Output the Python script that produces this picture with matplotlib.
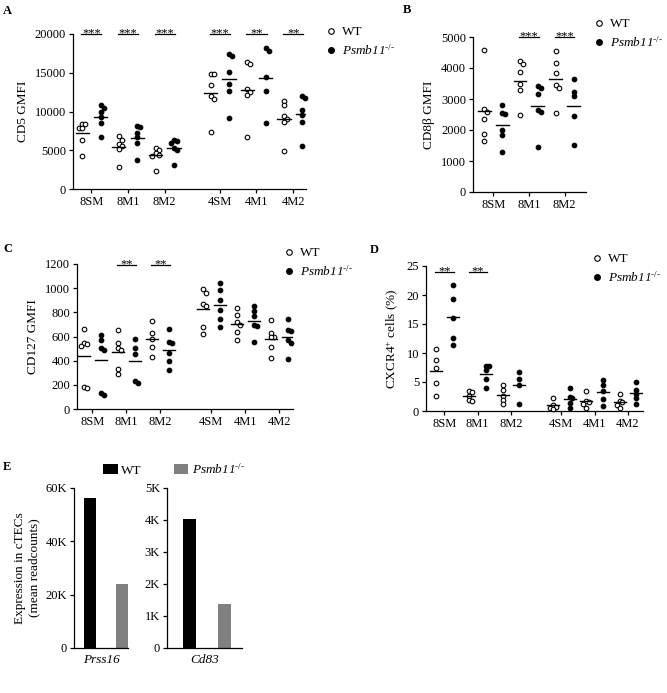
import numpy as np
import matplotlib
matplotlib.use('Agg')
import matplotlib.pyplot as plt
from matplotlib.lines import Line2D
from matplotlib.patches import Patch

plt.rcParams['font.family'] = ['Liberation Serif', 'DejaVu Serif']
plt.rcParams['mathtext.fontset'] = 'custom'
plt.rcParams['mathtext.rm'] = 'Liberation Serif'
plt.rcParams['mathtext.it'] = 'Liberation Serif:italic'
# italic slot that also keeps digits italic (used for the gene name)
plt.rcParams['mathtext.sf'] = 'Liberation Serif:italic'

# ---- data ----
groups_all = ['8SM', '8M1', '8M2', '4SM', '4M1', '4M2']
groups_cd8 = ['8SM', '8M1', '8M2']

cd5_wt = [[8400, 8350, 7900, 7850, 6350, 4300],
          [6860, 6350, 5790, 5490, 5190, 2780],
          [5300, 5060, 4600, 4420, 4290, 2270],
          [14850, 14850, 13400, 12000, 11600, 7300],
          [16350, 16090, 12870, 12570, 12140, 6770],
          [11400, 10850, 9450, 9000, 8700, 4850]]
cd5_ko = [[10850, 10430, 9910, 9270, 8500, 6690],
          [8150, 7980, 7210, 6650, 6000, 3770],
          [6350, 6130, 5920, 5280, 4970, 3130],
          [17400, 17200, 15100, 13600, 12600, 9150],
          [18150, 17850, 14400, 12600, 8500],
          [12050, 11800, 10200, 9550, 8700, 5600]]
cd5_sig = ['***', '***', '***', '***', '**', '**']

cd8b_wt = [[4590, 2690, 2580, 2370, 1880, 1650],
           [4230, 4120, 3870, 3490, 3300, 2490],
           [4550, 4160, 3850, 3440, 3370, 2550]]
cd8b_ko = [[2800, 2550, 2500, 1990, 1830, 1290],
           [3410, 3370, 3170, 2630, 2580, 1450],
           [3630, 3230, 3090, 2440, 1510]]
cd8b_sig = ['', '***', '***']

cd127_wt = [[660, 550, 536, 522, 185, 171],
            [655, 545, 503, 489, 329, 290],
            [727, 633, 580, 517, 434],
            [990, 960, 870, 850, 680, 620],
            [835, 780, 716, 697, 641, 572],
            [738, 628, 600, 594, 517, 420]]
cd127_ko = [[611, 570, 503, 489, 130, 116],
            [580, 503, 453, 235, 218],
            [660, 558, 545, 467, 401, 323],
            [1042, 987, 904, 821, 744, 675],
            [854, 813, 766, 697, 683, 558],
            [744, 650, 647, 572, 545, 412]]
cd127_sig = ['', '**', '**', '', '', '']

cxcr4_wt = [[10.7, 8.8, 7.4, 4.8, 2.6],
            [3.5, 3.3, 2.6, 1.9, 1.7],
            [4.4, 3.6, 2.6, 1.9, 1.2],
            [2.3, 1.0, 0.7, 0.5, 0.3],
            [3.4, 1.8, 1.5, 1.2, 0.5],
            [3.0, 1.7, 1.5, 1.1, 0.5]]
cxcr4_ko = [[21.8, 19.3, 16.0, 12.6, 11.4],
            [7.8, 7.7, 7.1, 5.6, 4.0],
            [6.8, 5.5, 4.5, 1.2],
            [3.9, 2.5, 2.3, 1.3, 0.6],
            [5.4, 4.4, 3.5, 2.1, 0.8],
            [5.0, 3.7, 3.0, 2.3, 1.2]]
cxcr4_sig = ['**', '**', '', '', '', '']

genes = ['Prss16', 'Cd83']
expr_wt = [56200, 4030]
expr_ko = [24100, 1375]

KO_LABEL = r'$\mathsf{Psmb11}^{\text{-/-}}$'

W, H = 667, 693
fig = plt.figure(figsize=(W / 100, H / 100), dpi=100)


def add_ax(l, t, r, b):
    return fig.add_axes([l / W, 1 - b / H, (r - l) / W, (b - t) / H])


def style(ax):
    for s in ['top', 'right']:
        ax.spines[s].set_visible(False)
    for s in ['left', 'bottom']:
        ax.spines[s].set_linewidth(0.9)
    ax.tick_params(direction='out', length=3, width=0.9, labelsize=9, pad=2)


def swarm(vals, yspan, d=0.17, tol=0.026):
    # simple beeswarm: shift overlapping points sideways
    placed = []
    offs = []
    for v in vals:
        for off in [0, d, -d, 2 * d, -2 * d]:
            ok = all(abs(v - pv) > tol * yspan or abs(off - po) > d * 0.9 for pv, po in placed)
            if ok:
                break
        placed.append((v, off))
        offs.append(off)
    return np.array(offs)


def dot_panel(ax, wt, ko, sig, labels, ylim, yticks, sig_y, wt_slots, ko_slots, xlim):
    yspan = ylim[1] - ylim[0]
    for vals, slot, filled in [(v, s, False) for v, s in zip(wt, wt_slots)] + \
                              [(v, s, True) for v, s in zip(ko, ko_slots)]:
        offs = swarm(vals, yspan)
        ax.scatter(slot + offs, vals, s=11, marker='o',
                   facecolors='black' if filled else 'white',
                   edgecolors='black', linewidths=0.8, zorder=3, clip_on=False)
        m = np.mean(vals)
        ax.plot([slot - 0.36, slot + 0.36], [m, m], color='black', lw=1.0, zorder=4)
    for s, a, b in zip(sig, wt_slots, ko_slots):
        if s:
            ax.plot([a - 0.05, b + 0.05], [sig_y, sig_y], color='black', lw=0.9, clip_on=False)
            ax.annotate(s, ((a + b) / 2, sig_y), xytext=(0, -1.5), textcoords='offset points',
                        ha='center', va='baseline', fontsize=9, annotation_clip=False)
    ax.set_xticks([(a + b) / 2 for a, b in zip(wt_slots, ko_slots)])
    ax.set_xticklabels(labels)
    ax.set_xlim(*xlim)
    ax.set_ylim(*ylim)
    ax.set_yticks(yticks)
    style(ax)


def marker_legend(x, y):
    h = [Line2D([], [], marker='o', ls='none', markersize=4, markerfacecolor='white',
                markeredgecolor='black', markeredgewidth=0.8),
         Line2D([], [], marker='o', ls='none', markersize=4, markerfacecolor='black',
                markeredgecolor='black')]
    fig.legend(h, ['WT', KO_LABEL], loc='upper left', bbox_to_anchor=(x / W, 1 - y / H),
               frameon=False, fontsize=9.5, borderpad=0, borderaxespad=0,
               handlelength=0.6, handletextpad=0.5, labelspacing=0.35)


wt6 = [0, 2, 4, 7, 9, 11]
ko6 = [1, 3, 5, 8, 10, 12]

# A
axA = add_ax(73, 34, 306, 189)
dot_panel(axA, cd5_wt, cd5_ko, cd5_sig, groups_all, (0, 20000),
          [0, 5000, 10000, 15000, 20000], 20000, wt6, ko6, (-0.5, 12.2))
axA.set_ylabel('CD5 GMFI', fontsize=9.5)
marker_legend(327, 26)

# B
axB = add_ax(473, 37, 586, 192)
dot_panel(axB, cd8b_wt, cd8b_ko, cd8b_sig, groups_cd8, (0, 5000),
          [0, 1000, 2000, 3000, 4000, 5000], 5000, [0, 2, 4], [1, 3, 5], (-0.64, 5.7))
axB.set_ylabel('CD8β GMFI', fontsize=9.5)
marker_legend(595, 18)

# C
axC = add_ax(77, 264, 293, 409)
dot_panel(axC, cd127_wt, cd127_ko, cd127_sig, groups_all, (0, 1200),
          [0, 200, 400, 600, 800, 1000, 1200], 1190, wt6, ko6, (-0.4, 12.3))
axC.set_ylabel('CD127 GMFI', fontsize=9.5)
marker_legend(285, 247)

# D
axD = add_ax(426, 266, 643, 411)
dot_panel(axD, cxcr4_wt, cxcr4_ko, cxcr4_sig, groups_all, (0, 25),
          [0, 5, 10, 15, 20, 25], 24.0, wt6, ko6, (-0.6, 12.4))
axD.set_ylabel(r'CXCR4$^{+}$ cells (%)', fontsize=9.5)
marker_legend(593, 253)

# E
axE1 = add_ax(74, 488, 128, 648)
axE2 = add_ax(167, 488, 242, 648)
for ax, i, ymax, ticks, tlabels, xlim in [
        (axE1, 0, 60000, [0, 20000, 40000, 60000], ['0', '20K', '40K', '60K'], (-0.5, 1.2)),
        (axE2, 1, 5000, [0, 1000, 2000, 3000, 4000, 5000], ['0', '1K', '2K', '3K', '4K', '5K'], (-0.64, 1.5))]:
    ax.bar([0], [expr_wt[i]], width=0.37, color='black')
    ax.bar([1], [expr_ko[i]], width=0.37, color='#808080')
    ax.set_ylim(0, ymax)
    ax.set_yticks(ticks)
    ax.set_yticklabels(tlabels)
    ax.set_xlim(*xlim)
    ax.set_xticks([])
    ax.set_xlabel(genes[i], fontsize=9.5, style='italic', labelpad=4)
    style(ax)
axE1.set_ylabel('Expression in cTECs\n(mean readcounts)', fontsize=9.5)

hE = [Patch(facecolor='black'), Patch(facecolor='#808080')]
fig.legend(hE, ['WT', KO_LABEL], loc='upper left', bbox_to_anchor=(103 / W, 1 - 462 / H),
           ncol=2, frameon=False, fontsize=9.5, borderpad=0, borderaxespad=0,
           handlelength=1.1, handleheight=0.7, handletextpad=0.3, columnspacing=2.4)

# panel letters
for letter, x, y in [('A', 3, 5), ('B', 403, 4), ('C', 3, 243), ('D', 370, 244), ('E', 3, 461)]:
    fig.text(x / W, 1 - y / H, letter, ha='left', va='top', fontsize=9, weight='bold')

fig.savefig('out.png', dpi=100)
